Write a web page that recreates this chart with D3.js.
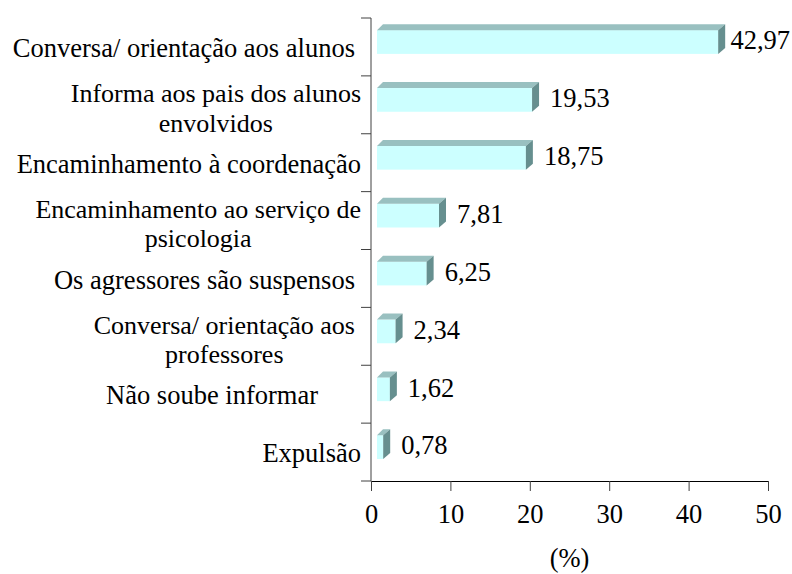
<!DOCTYPE html>
<html>
<head>
<meta charset="utf-8">
<script src="https://cdn.jsdelivr.net/npm/d3@7"></script>
<style>
  body { margin: 0; background: #fff; }
  text { font-family: "Liberation Serif", "Times New Roman", serif; fill: #000; }
</style>
</head>
<body>
<div class="barChart"></div>
<script>
// categories (each entry is an array of text lines), top to bottom
const categories = [
    ["Conversa/ orientação aos alunos"],
    ["Informa aos pais dos alunos", "envolvidos"],
    ["Encaminhamento à coordenação"],
    ["Encaminhamento ao serviço de", "psicologia"],
    ["Os agressores são suspensos"],
    ["Conversa/ orientação aos", "professores"],
    ["Não soube informar"],
    ["Expulsão"]
];
const values = [42.97, 19.53, 18.75, 7.81, 6.25, 2.34, 1.62, 0.78];
const valueLabels = ["42,97", "19,53", "18,75", "7,81", "6,25", "2,34", "1,62", "0,78"];
const xTicks = [0, 10, 20, 30, 40, 50];
const xTitle = "(%)";

const width = 792, height = 574;
const margin = {top: 18, right: 24, bottom: 93, left: 371};
const depth = 6;   // 3d offset of the bars
const fontSize = "26.5px";

const svg = d3.select(".barChart")
    .append("svg")
    .attr("width", width)
    .attr("height", height);

const x = d3.scaleLinear()
    .domain([0, 50])
    .range([margin.left, width - margin.right]);

const y = d3.scaleBand()
    .domain(d3.range(categories.length))
    .range([margin.top, height - margin.bottom]);

const plotBottom = height - margin.bottom;

// bars: front, top and side faces
const bars = svg.append("g").selectAll("g")
    .data(values)
    .join("g");

const frontTop = i => y(i) + y.bandwidth() * 0.21;
const frontBottom = i => y(i) + y.bandwidth() * 0.62;

bars.append("rect")
    .attr("x", x(0) + depth)
    .attr("y", (d, i) => frontTop(i))
    .attr("width", d => x(d) - x(0))
    .attr("height", (d, i) => frontBottom(i) - frontTop(i))
    .attr("fill", "#ccffff");

bars.append("path")
    .attr("fill", "#99c0c0")
    .attr("d", (d, i) => {
        let x0 = x(0) + depth, x1 = x(d) + depth, t = frontTop(i);
        return `M${x0},${t}L${x0 + depth},${t - depth}L${x1 + depth + 1},${t - depth}L${x1},${t}Z`;
    });

bars.append("path")
    .attr("fill", "#668f8f")
    .attr("d", (d, i) => {
        let x1 = x(d) + depth, t = frontTop(i), b = frontBottom(i);
        return `M${x1},${t}L${x1 + depth + 1},${t - depth}L${x1 + depth + 1},${b - depth}L${x1},${b}Z`;
    });

// value labels, kept inside the picture
svg.append("g").selectAll("text")
    .data(values)
    .join("text")
    .attr("y", (d, i) => (frontTop(i) + frontBottom(i)) / 2 - 2)
    .attr("dy", "0.35em")
    .attr("font-size", fontSize)
    .text((d, i) => valueLabels[i])
    .attr("x", function(d) {
        return Math.min(x(d) + 24, width - 2 - this.getComputedTextLength());
    });

// y axis
svg.append("line")
    .attr("x1", x(0)).attr("x2", x(0))
    .attr("y1", margin.top).attr("y2", plotBottom)
    .attr("stroke", "#404040");

svg.append("g").selectAll("line")
    .data(d3.range(categories.length + 1))
    .join("line")
    .attr("x1", x(0) - 10).attr("x2", x(0))
    .attr("y1", i => i < categories.length ? y(i) : plotBottom)
    .attr("y2", i => i < categories.length ? y(i) : plotBottom)
    .attr("stroke", "#404040");

// category labels, right aligned, multi-line blocks centered on themselves
const labelRight = x(0) - 10;
const lineHeight = 29.5;
categories.forEach((lines, i) => {
    let cy = y(i) + y.bandwidth() / 2 + (lines.length > 1 ? 3 : 1);
    let g = svg.append("g");
    let texts = lines.map((line, k) => g.append("text")
        .attr("y", cy + (k - (lines.length - 1) / 2) * lineHeight)
        .attr("dy", "0.35em")
        .attr("font-size", lines.length > 1 ? "26px" : fontSize)
        .attr("text-anchor", "middle")
        .text(line));
    let maxW = d3.max(texts, t => t.node().getComputedTextLength());
    let pad = (i === 6) ? 43 : (i === 0 || i === 4 || i === 5) ? 6 : 0;
    texts.forEach(t => t.attr("x", labelRight - pad - maxW / 2));
});

// x axis
const xAxis = svg.append("g")
    .attr("transform", `translate(0, ${plotBottom})`)
    .call(d3.axisBottom(x).tickValues(xTicks).tickSize(10).tickPadding(13).tickFormat(d3.format("d")));

xAxis.select(".domain").attr("stroke", "#000").attr("d", `M${x(0)},0.5H${x(50)}`);
xAxis.selectAll(".tick line").attr("stroke", "#404040");
xAxis.selectAll(".tick text")
    .attr("font-size", fontSize);

svg.append("text")
    .attr("x", (x(0) + x(50)) / 2)
    .attr("y", 567)
    .attr("text-anchor", "middle")
    .attr("font-size", fontSize)
    .text(xTitle);
</script>
</body>
</html>
